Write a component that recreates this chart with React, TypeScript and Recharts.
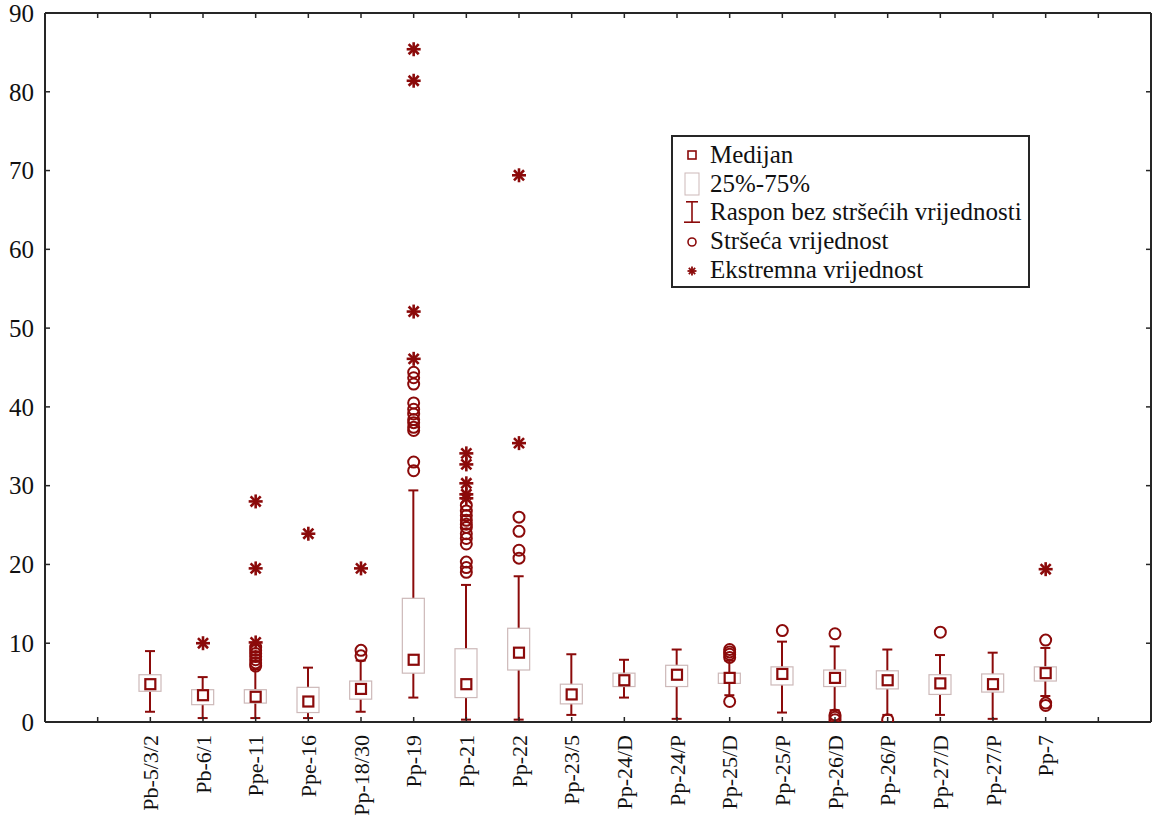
import React from 'react';
import { ComposedChart, Bar, Scatter, XAxis, YAxis, Legend } from 'recharts';

const categories = ['Pb-5/3/2', 'Pb-6/1', 'Ppe-11', 'Ppe-16', 'Pp-18/30', 'Pp-19', 'Pp-21', 'Pp-22', 'Pp-23/5', 'Pp-24/D', 'Pp-24/P', 'Pp-25/D', 'Pp-25/P', 'Pp-26/D', 'Pp-26/P', 'Pp-27/D', 'Pp-27/P', 'Pp-7'];
const medians = [4.8, 3.4, 3.2, 2.6, 4.2, 7.9, 4.8, 8.8, 3.5, 5.3, 6.0, 5.6, 6.1, 5.6, 5.3, 4.9, 4.8, 6.2];
const q1 = [3.9, 2.2, 2.4, 1.2, 2.9, 6.2, 3.1, 6.6, 2.3, 4.5, 4.5, 4.9, 4.7, 4.5, 4.2, 3.5, 3.8, 5.2];
const q3 = [6.0, 4.1, 4.1, 4.4, 5.2, 15.7, 9.3, 11.9, 4.8, 6.2, 7.2, 6.2, 7.0, 6.6, 6.5, 6.0, 6.1, 7.0];
const whiskerLow = [1.3, 0.5, 0.5, 0.5, 1.3, 3.1, 0.3, 0.3, 0.9, 3.1, 0.4, 3.4, 1.2, 1.5, 0.9, 0.9, 0.4, 3.3];
const whiskerHigh = [9.0, 5.7, 6.7, 6.9, 7.8, 29.4, 17.4, 18.5, 8.6, 7.9, 9.2, 7.8, 10.2, 9.6, 9.2, 8.5, 8.8, 9.4];
const outliers: number[][] = [
  [], [], [7.1, 7.5, 7.9, 8.3, 8.7, 9.1, 9.5], [], [8.4, 9.1],
  [31.9, 33.0, 37.0, 37.4, 38.0, 38.4, 39.1, 39.7, 40.5, 42.9, 43.7, 44.4],
  [19.0, 19.6, 20.3, 22.6, 23.3, 23.9, 24.7, 25.1, 25.6, 26.2, 26.8, 27.5],
  [20.8, 21.8, 24.2, 26.0], [], [], [], [2.6, 8.2, 8.6, 8.9, 9.2], [11.6],
  [0.3, 0.6, 0.9, 11.2], [0.3], [11.4], [], [2.1, 2.4, 10.4],
];
const extremes: number[][] = [
  [], [10.0], [10.1, 19.5, 28.0], [23.9], [19.5], [46.1, 52.1, 81.4, 85.4],
  [28.4, 28.9, 30.3, 32.7, 34.1], [35.4, 69.4], [], [], [], [], [], [], [], [], [], [19.4],
];
const yTicks = [0, 10, 20, 30, 40, 50, 60, 70, 80, 90];
const xTicks = [-1, ...categories.map((_, i) => i), categories.length];
const legendLabels = ['Medijan', '25%-75%', 'Raspon bez stršećih vrijednosti', 'Stršeća vrijednost', 'Ekstremna vrijednost'];

const table = categories.map((name, i) => ({
  x: i,
  name,
  median: medians[i],
  box: [q1[i], q3[i]],
  whisker: [whiskerLow[i], whiskerHigh[i]],
}));
const outlierPoints = outliers.flatMap((vals, i) => vals.map((v) => ({ x: i, y: v })));
const extremePoints = extremes.flatMap((vals, i) => vals.map((v) => ({ x: i, y: v })));

const RED = '#8b0a0a';
const AXIS = '#262626';
const BOXSTROKE = '#cdb9b9';
const FONT = 'Liberation Serif, DejaVu Serif, serif';
const X_DOMAIN: [number, number] = [-2, 19];

const BottomTick = (props: any) => {
  const { x, y, payload } = props;
  const label = categories[payload.value];
  return (
    <g>
      <line x1={x} y1={y} x2={x} y2={y - 5} stroke={AXIS} strokeWidth={1.5} />
      {label && (
        <text x={x} y={y + 13} transform={`rotate(-90 ${x} ${y + 13})`} textAnchor="end" dy="0.35em" style={{ fontFamily: FONT }} fontSize={22} fill="#111">
          {label}
        </text>
      )}
    </g>
  );
};
const TopTick = (props: any) => {
  const { x, y } = props;
  return <line x1={x} y1={y} x2={x} y2={y + 5} stroke={AXIS} strokeWidth={1.5} />;
};
const LeftTick = (props: any) => {
  const { x, y, payload } = props;
  return (
    <g>
      <line x1={x} y1={y} x2={x + 5} y2={y} stroke={AXIS} strokeWidth={1.5} />
      <text x={x - 11} y={y} dy="0.35em" textAnchor="end" style={{ fontFamily: FONT }} fontSize={25} fill="#111">
        {payload.value}
      </text>
    </g>
  );
};
const RightTick = (props: any) => {
  const { x, y } = props;
  return <line x1={x} y1={y} x2={x - 5} y2={y} stroke={AXIS} strokeWidth={1.5} />;
};

const WhiskerShape = (props: any) => {
  const { x, y, width, height } = props;
  const top = Math.min(y, y + height);
  const bot = Math.max(y, y + height);
  const cx = x + width / 2;
  return (
    <g stroke={RED} strokeWidth={2}>
      <line x1={cx} y1={top} x2={cx} y2={bot} />
      <line x1={x} y1={top} x2={x + width} y2={top} />
      <line x1={x} y1={bot} x2={x + width} y2={bot} />
    </g>
  );
};
const BoxShape = (props: any) => {
  const { x, y, width, height } = props;
  const top = Math.min(y, y + height);
  return <rect x={x} y={top} width={width} height={Math.abs(height)} fill="#fff" stroke={BOXSTROKE} strokeWidth={1.2} />;
};
const MedianShape = (props: any) => {
  const { cx, cy } = props;
  return <rect x={cx - 5} y={cy - 5} width={10} height={10} fill="#fff" stroke={RED} strokeWidth={2.2} />;
};
const OutlierShape = (props: any) => {
  const { cx, cy } = props;
  return <circle cx={cx} cy={cy} r={5.5} fill="none" stroke={RED} strokeWidth={2} />;
};
const StarShape = (props: any) => {
  const { cx, cy } = props;
  const r = 7;
  const d = r * 0.72;
  return (
    <g stroke={RED} strokeWidth={2.6}>
      <line x1={cx - r} y1={cy} x2={cx + r} y2={cy} />
      <line x1={cx} y1={cy - r} x2={cx} y2={cy + r} />
      <line x1={cx - d} y1={cy - d} x2={cx + d} y2={cy + d} />
      <line x1={cx - d} y1={cy + d} x2={cx + d} y2={cy - d} />
    </g>
  );
};

const legendIcon = (i: number) => {
  switch (i) {
    case 0:
      return <rect x={5} y={8} width={8} height={8} fill="#fff" stroke={RED} strokeWidth={1.6} />;
    case 1:
      return <rect x={2} y={1} width={14} height={22} fill="#fff" stroke={BOXSTROKE} strokeWidth={1} />;
    case 2:
      return (
        <g stroke={RED} strokeWidth={1.6}>
          <line x1={9} y1={1} x2={9} y2={23} />
          <line x1={3} y1={1.8} x2={15} y2={1.8} />
          <line x1={1} y1={22.2} x2={17} y2={22.2} />
        </g>
      );
    case 3:
      return <circle cx={9} cy={13} r={4} fill="none" stroke={RED} strokeWidth={1.6} />;
    default:
      return (
        <g stroke={RED} strokeWidth={1.8}>
          <line x1={4.5} y1={13} x2={13.5} y2={13} />
          <line x1={9} y1={8.5} x2={9} y2={17.5} />
          <line x1={5.8} y1={9.8} x2={12.2} y2={16.2} />
          <line x1={5.8} y1={16.2} x2={12.2} y2={9.8} />
        </g>
      );
  }
};

const LegendBox = () => (
  <div
    style={{
      width: 359,
      height: 153,
      boxSizing: 'border-box',
      border: `2px solid ${AXIS}`,
      background: '#fff',
      padding: '4px 0 0 10px',
      fontFamily: FONT,
      fontSize: 25,
      lineHeight: '28px',
      color: '#111',
    }}
  >
    {legendLabels.map((label, i) => (
      <div key={label} style={{ display: 'flex', alignItems: 'center', height: 28.6, whiteSpace: 'nowrap' }}>
        <svg width={18} height={24} style={{ marginRight: 9, flex: 'none' }}>
          {legendIcon(i)}
        </svg>
        <span>{label}</span>
      </div>
    ))}
  </div>
);

export default function App() {
  return (
    <div style={{ position: 'absolute', left: 0, top: 0, width: 1152, height: 822, background: '#fff', fontFamily: FONT }}>
      <ComposedChart width={1152} height={822} data={table} margin={{ top: 12, right: 0, bottom: 0, left: 0 }}>
        <XAxis
          xAxisId={0}
          type="number"
          dataKey="x"
          domain={X_DOMAIN}
          ticks={xTicks}
          interval={0}
          allowDataOverflow
          height={100}
          tickSize={0}
          tickMargin={0}
          tickLine={false}
          tick={<BottomTick />}
          axisLine={{ stroke: AXIS, strokeWidth: 2 }}
        />
        <XAxis
          xAxisId="top"
          orientation="top"
          type="number"
          dataKey="x"
          domain={X_DOMAIN}
          ticks={xTicks}
          interval={0}
          allowDataOverflow
          height={1}
          tickSize={0}
          tickMargin={0}
          tickLine={false}
          tick={<TopTick />}
          axisLine={{ stroke: AXIS, strokeWidth: 2 }}
        />
        <XAxis xAxisId="box" type="number" dataKey="x" domain={X_DOMAIN} allowDataOverflow hide />
        <XAxis xAxisId="wh" type="number" dataKey="x" domain={X_DOMAIN} allowDataOverflow hide />
        <YAxis
          yAxisId={0}
          type="number"
          domain={[0, 90]}
          ticks={yTicks}
          interval={0}
          allowDataOverflow
          width={45}
          tickSize={0}
          tickMargin={0}
          tickLine={false}
          tick={<LeftTick />}
          axisLine={{ stroke: AXIS, strokeWidth: 2 }}
        />
        <YAxis
          yAxisId="right"
          orientation="right"
          type="number"
          domain={[0, 90]}
          ticks={yTicks}
          interval={0}
          allowDataOverflow
          width={1}
          tickSize={0}
          tickMargin={0}
          tickLine={false}
          tick={<RightTick />}
          axisLine={{ stroke: AXIS, strokeWidth: 2 }}
        />
        <Legend layout="vertical" align="center" verticalAlign="middle" wrapperStyle={{ left: 671, top: 135, width: 359, height: 153 }} content={() => <LegendBox />} />
        <Bar xAxisId="wh" yAxisId={0} dataKey="whisker" barSize={10} shape={<WhiskerShape />} isAnimationActive={false} legendType="none" />
        <Bar xAxisId="box" yAxisId={0} dataKey="box" barSize={22} shape={<BoxShape />} isAnimationActive={false} legendType="none" />
        <Scatter xAxisId={0} yAxisId={0} data={table} dataKey="median" shape={<MedianShape />} isAnimationActive={false} legendType="none" />
        <Scatter xAxisId={0} yAxisId={0} data={outlierPoints} dataKey="y" shape={<OutlierShape />} isAnimationActive={false} legendType="none" />
        <Scatter xAxisId={0} yAxisId={0} data={extremePoints} dataKey="y" shape={<StarShape />} isAnimationActive={false} legendType="none" />
      </ComposedChart>
    </div>
  );
}
